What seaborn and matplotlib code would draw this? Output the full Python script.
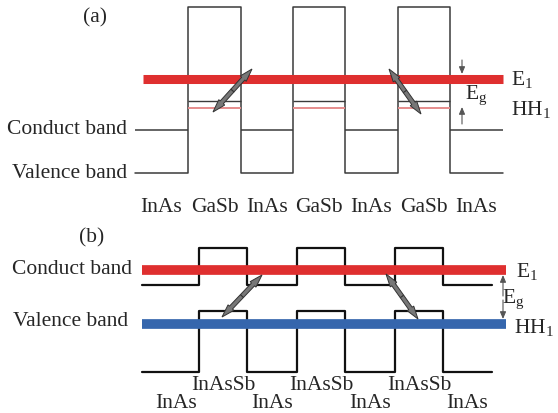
import matplotlib
matplotlib.use("Agg")
import matplotlib.pyplot as plt
import seaborn as sns
import pandas as pd

# panel (a): InAs/GaSb superlattice (screen units, y grows downward)
a_edges = [135, 188, 241, 293, 345, 398, 450, 503]
a_layers = ["InAs", "GaSb", "InAs", "GaSb", "InAs", "GaSb", "InAs"]
a_barrier_top = 7
a_cb_inas = 130
a_vb_inas = 173
a_hh_line = 101
a_hh_pink = 108
a_e1 = 79

# panel (b): InAs/InAsSb superlattice
b_edges = [142, 199, 247, 297, 345, 395, 443, 492]
b_layers = ["InAs", "InAsSb", "InAs", "InAsSb", "InAs", "InAsSb", "InAs"]
b_cb = [285, 248, 285, 248, 285, 248, 285]
b_vb = [372, 311, 372, 311, 372, 311, 372]
b_e1 = 270
b_hh1 = 324

# transitions (start, end)
transitions = [((213, 112), (252, 69)), ((389, 69), (421, 114)),
               ((222, 317), (262, 275)), ((386, 274), (418, 319))]

sns.set_theme(style="white")
plt.rcParams["font.family"] = ["Liberation Serif", "DejaVu Serif"]

fig = plt.figure(figsize=(5.58, 4.13), dpi=100)
ax = fig.add_axes([0, 0, 1, 1])
ax.set_xlim(0, 558)
ax.set_ylim(413, 0)
ax.axis("off")

fs = 15.5


def step_frame(edges, levels):
    xs, ys = [], []
    for i, lv in enumerate(levels):
        xs += [edges[i], edges[i + 1]]
        ys += [lv, lv]
    return pd.DataFrame({"x": xs, "y": ys, "i": range(len(xs))})


# ---- panel (a) ----
a_lower = [a_vb_inas if l == "InAs" else a_barrier_top for l in a_layers]
sns.lineplot(data=step_frame(a_edges, a_lower), x="x", y="y", sort=False,
             estimator=None, color="#3a3a3a", lw=1.1, ax=ax)
for i, l in enumerate(a_layers):
    x0, x1 = a_edges[i], a_edges[i + 1]
    if l == "InAs":
        ax.hlines(a_cb_inas, x0, x1, color="#3a3a3a", lw=1.1)
    else:
        ax.hlines(a_hh_line, x0, x1, color="#3a3a3a", lw=1.0)
        ax.hlines(a_hh_pink, x0, x1, color="#e58c8c", lw=1.4)
ax.hlines(a_e1, 143, a_edges[-1], color="#df2f2f", lw=6.5)

ax.text(95, 18, "(a)", fontsize=fs, ha="center", va="center")
ax.text(127, a_cb_inas, "Conduct band", fontsize=fs, ha="right", va="center")
ax.text(127, a_vb_inas, "Valence band", fontsize=fs, ha="right", va="center")
for i, l in enumerate(a_layers):
    ax.text((a_edges[i] + a_edges[i + 1]) / 2, 208, l,
            fontsize=fs, ha="center", va="center")

# ---- panel (b) ----
sns.lineplot(data=step_frame(b_edges, b_cb), x="x", y="y", sort=False,
             estimator=None, color="#111111", lw=1.6, ax=ax)
sns.lineplot(data=step_frame(b_edges, b_vb), x="x", y="y", sort=False,
             estimator=None, color="#111111", lw=1.6, ax=ax)
ax.hlines(b_e1, 142, 506, color="#df2f2f", lw=7)
ax.hlines(b_hh1, 142, 506, color="#3566ad", lw=7)

ax.text(92, 238, "(b)", fontsize=fs, ha="center", va="center")
ax.text(132, 270, "Conduct band", fontsize=fs, ha="right", va="center")
ax.text(128, 322, "Valence band", fontsize=fs, ha="right", va="center")
for i, l in enumerate(b_layers):
    xc = (b_edges[i] + b_edges[i + 1]) / 2
    if l == "InAs":
        if i == 0:
            xc = 176
        ax.text(xc, 404, l, fontsize=fs, ha="center", va="center")
    else:
        ax.text(xc, 385, l, fontsize=fs, ha="center", va="center")

# ---- transitions: slim double-headed arrows drawn from the midpoint ----
for (x0, y0), (x1, y1) in transitions:
    xm, ym = (x0 + x1) / 2, (y0 + y1) / 2
    for xe, ye in [(x0, y0), (x1, y1)]:
        ax.arrow(xm, ym, xe - xm, ye - ym, width=4.2, head_width=8,
                 head_length=13, length_includes_head=True,
                 fc="#777777", ec="#333333", lw=0.7, zorder=5)

# ---- Eg markers ----
small = dict(arrowstyle="-|>,head_length=0.35,head_width=0.15", lw=0.8,
             color="#555555", shrinkA=0, shrinkB=0)
ax.annotate("", xy=(462, 74), xytext=(462, 60), arrowprops=small)
ax.annotate("", xy=(462, 107), xytext=(462, 124), arrowprops=small)
ax.annotate("", xy=(503, 275), xytext=(503, 296), arrowprops=small)
ax.annotate("", xy=(503, 319), xytext=(503, 300), arrowprops=small)

ax.text(465, 96, r"E$_\mathregular{g}$", fontsize=fs, ha="left", va="center")
ax.text(511, 80, r"E$_\mathregular{1}$", fontsize=fs, ha="left", va="center")
ax.text(511, 110, r"HH$_\mathregular{1}$", fontsize=fs, ha="left", va="center")
ax.text(502, 300, r"E$_\mathregular{g}$", fontsize=fs, ha="left", va="center")
ax.text(516, 272, r"E$_\mathregular{1}$", fontsize=fs, ha="left", va="center")
ax.text(514, 328, r"HH$_\mathregular{1}$", fontsize=fs, ha="left", va="center")

fig.savefig("out.png", dpi=100)
